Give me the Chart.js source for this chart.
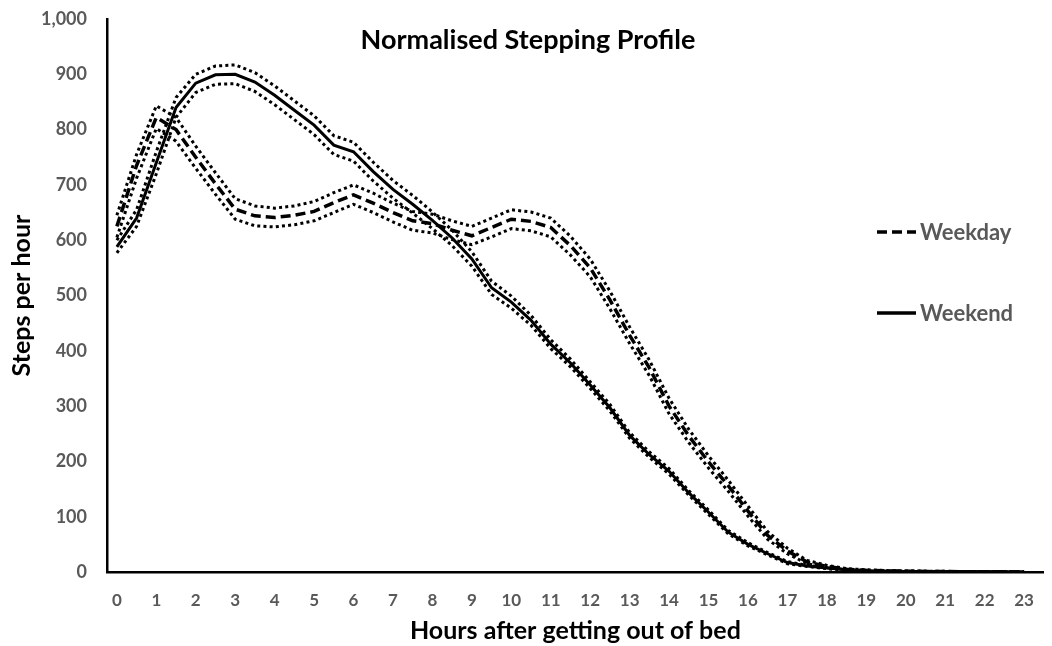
<!DOCTYPE html>
<html>
<head>
<meta charset="utf-8">
<script src="https://cdn.jsdelivr.net/npm/chart.js@4.4.1/dist/chart.umd.min.js"></script>
<style>
html,body{margin:0;padding:0;background:#fff;}
#wrap{width:1052px;height:646px;position:relative;}
</style>
</head>
<body>
<div id="wrap"><canvas id="c"></canvas></div>
<script>
// Hours after getting out of bed (half-hour resolution)
const hours = [0,0.5,1,1.5,2,2.5,3,3.5,4,4.5,5,5.5,6,6.5,7,7.5,8,8.5,9,9.5,10,10.5,11,11.5,12,12.5,13,13.5,14,14.5,15,15.5,16,16.5,17,17.5,18,18.5,19,19.5,20,20.5,21,21.5,22,22.5,23];

const weekdayMean  = [625,735,822,800,750,702,656,644,641,645,652,668,682,667,650,635,630,618,608,623,638,634,623,590,550,492,428,369,300,246,199,156,110,66,38,18,10,5,3,2,1.5,1,1,0.5,0.5,0.3,0.2];
const weekdayUpper = [645,755,843,822,770,722,675,662,658,662,670,686,700,685,667,652,647,635,625,640,655,651,640,607,566,508,443,383,314,258,210,166,119,73,43,21,12,6,4,2.5,2,1.5,1.2,0.8,0.7,0.5,0.3];
const weekdayLower = [605,712,802,779,730,683,638,626,624,628,635,650,665,650,633,618,613,601,592,606,621,617,606,573,534,476,413,355,286,234,188,146,101,59,33,15,8,4,2,1.5,1,0.5,0.8,0.2,0.3,0.1,0.1];

const weekendMean  = [588,640,740,840,884,899,900,886,862,835,808,772,760,724,692,665,636,604,566,514,488,455,412,378,338,297,247,212,182,143,108,72,50,33,17,11,7,4,2,1.5,1,1,0.5,0.5,0.3,0.2,0.1];
const weekendUpper = [600,655,760,858,900,915,917,903,879,852,825,789,777,741,708,681,651,618,579,526,499,464,420,385,344,303,252,217,187,147,112,75,53,35,19,12,8,5,2.5,2,1.3,1.2,0.7,0.6,0.4,0.3,0.2];
const weekendLower = [577,625,720,822,867,882,883,869,845,818,791,755,743,707,676,649,621,590,553,502,477,446,404,371,332,291,242,207,177,139,104,69,47,31,15,10,6,3,1.5,1,0.7,0.8,0.3,0.4,0.2,0.1,0.05];

const chartTitle = 'Normalised Stepping Profile';
const xTitle = 'Hours after getting out of bed';
const yTitle = 'Steps per hour';
const legendLabels = ['Weekday', 'Weekend'];

const FONT = "Lato, 'Open Sans', sans-serif";
Chart.defaults.font.family = FONT;

function pts(arr){ return hours.map((h,i)=>({x:h, y:arr[i]})); }

const dotted = { borderColor:'#000', borderWidth:3, borderDash:[3,3.2], borderCapStyle:'butt', pointRadius:0, tension:0, fill:false };
const datasets = [
  Object.assign({label:'Weekday upper', data:pts(weekdayUpper)}, dotted),
  Object.assign({label:'Weekday lower', data:pts(weekdayLower)}, dotted),
  Object.assign({label:'Weekend upper', data:pts(weekendUpper)}, dotted),
  Object.assign({label:'Weekend lower', data:pts(weekendLower)}, dotted),
  {label:legendLabels[0], data:pts(weekdayMean), borderColor:'#000', borderWidth:3.5, borderDash:[10,5], pointRadius:0, tension:0, fill:false},
  {label:legendLabels[1], data:pts(weekendMean), borderColor:'#000', borderWidth:3, pointRadius:0, tension:0, fill:false}
];

const overlay = {
  id:'overlay',
  afterDraw(chart){
    const ctx = chart.ctx;
    ctx.save();
    // title
    ctx.fillStyle = '#000';
    ctx.font = "bold 27px " + FONT;
    ctx.textAlign = 'center';
    ctx.textBaseline = 'middle';
    ctx.fillText(chartTitle, 528, 40);
    // legend
    const items = [
      {text:legendLabels[0], dash:[10,5], y:232},
      {text:legendLabels[1], dash:[], y:313}
    ];
    items.forEach(it=>{
      ctx.strokeStyle = '#000';
      ctx.lineWidth = 3.5;
      ctx.setLineDash(it.dash);
      ctx.beginPath();
      ctx.moveTo(877, it.y);
      ctx.lineTo(916, it.y);
      ctx.stroke();
      ctx.setLineDash([]);
      ctx.fillStyle = '#595959';
      ctx.font = "bold 22px " + FONT;
      ctx.textAlign = 'left';
      ctx.textBaseline = 'middle';
      ctx.fillText(it.text, 920, it.y + 1);
    });
    ctx.restore();
  }
};

new Chart(document.getElementById('c'), {
  type:'line',
  data:{ datasets },
  options:{
    responsive:true,
    maintainAspectRatio:false,
    animation:false,
    layout:{ padding:{ top:19, right:2, bottom:0, left:0 } },
    plugins:{ legend:{display:false}, tooltip:{enabled:false}, title:{display:false} },
    scales:{
      x:{
        type:'linear',
        min:-0.25, max:23.5,
        grid:{ display:false, drawTicks:false },
        border:{ display:true, color:'#000', width:2.5 },
        ticks:{ stepSize:1, includeBounds:false, autoSkip:false, color:'#595959', padding:18, font:{ size:17, weight:'bold' } },
        title:{ display:true, text:xTitle, color:'#000', padding:{top:0,bottom:0}, font:{ size:25, weight:'bold' } },
        afterFit(s){ s.height = 74; }
      },
      y:{
        min:0, max:1000,
        grid:{ display:false, drawTicks:false },
        border:{ display:true, color:'#000', width:2.5 },
        ticks:{ stepSize:100, color:'#595959', padding:20, font:{ size:18, weight:'bold' } },
        title:{ display:true, text:yTitle, color:'#000', padding:{top:7,bottom:0}, font:{ size:25, weight:'bold' } },
        afterFit(s){ s.width = 107; s.paddingTop = 0; s.paddingBottom = 0; }
      }
    }
  },
  plugins:[overlay]
});
</script>
</body>
</html>
